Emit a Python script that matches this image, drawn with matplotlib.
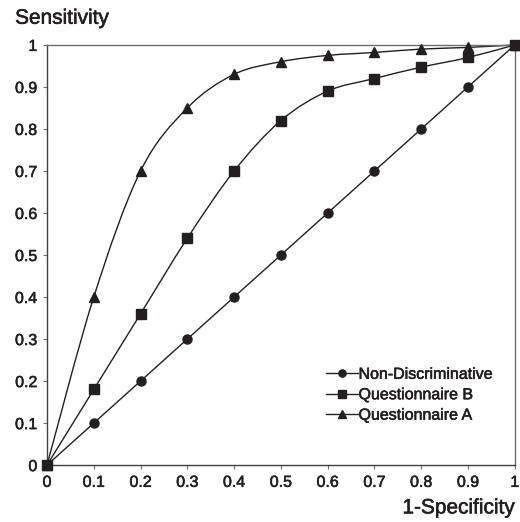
import numpy as np
import matplotlib
matplotlib.use("Agg")
import matplotlib.pyplot as plt
import matplotlib.patheffects as pe
from matplotlib.path import Path
from matplotlib.patches import PathPatch

# values
fpr = [0, 0.1, 0.2, 0.3, 0.4, 0.5, 0.6, 0.7, 0.8, 0.9, 1.0]
non_disc = [0, 0.1, 0.2, 0.3, 0.4, 0.5, 0.6, 0.7, 0.8, 0.9, 1.0]
quest_b = [0, 0.18, 0.36, 0.54, 0.70, 0.82, 0.89, 0.92, 0.947, 0.97, 1.0]
quest_a = [0, 0.40, 0.70, 0.85, 0.93, 0.96, 0.975, 0.982, 0.99, 0.994, 1.0]

series = [("Non-Discriminative", non_disc, "o"),
          ("Questionnaire B", quest_b, "s"),
          ("Questionnaire A", quest_a, "^")]

ticks = [0, 0.1, 0.2, 0.3, 0.4, 0.5, 0.6, 0.7, 0.8, 0.9, 1]
tick_labels = ["0", "0.1", "0.2", "0.3", "0.4", "0.5", "0.6", "0.7", "0.8", "0.9", "1"]

ink = "#231f20"
frame = "#6d6e71"
plt.rcParams['font.family'] = ['Liberation Sans', 'DejaVu Sans']
# printed text is a bit heavier than regular
heavy = [pe.withStroke(linewidth=0.4, foreground=ink)]


def smooth_path(x, y):
    # Excel-style smoothed line: cubic bezier segments (Catmull-Rom tangents)
    x = np.asarray(x, float)
    y = np.asarray(y, float)
    verts = [(x[0], y[0])]
    codes = [Path.MOVETO]
    n = len(x)
    for i in range(n - 1):
        i0 = max(i - 1, 0)
        i3 = min(i + 2, n - 1)
        c1 = (x[i] + (x[i + 1] - x[i0]) / 6, y[i] + (y[i + 1] - y[i0]) / 6)
        c2 = (x[i + 1] - (x[i3] - x[i]) / 6, y[i + 1] - (y[i3] - y[i]) / 6)
        verts += [c1, c2, (x[i + 1], y[i + 1])]
        codes += [Path.CURVE4] * 3
    return Path(verts, codes)


fig = plt.figure(figsize=(5.2, 5.22), dpi=100)
ax = fig.add_axes([0.0904, 0.109, 0.8996, 0.805])

for name, vals, mk in series:
    ms = 7 if mk == "^" else 6.5
    ax.add_patch(PathPatch(smooth_path(fpr, vals), facecolor="none",
                           edgecolor=ink, lw=1.0, clip_on=False))
    ax.plot(fpr, vals, linestyle="none", marker=mk, color=ink,
            markersize=ms, clip_on=False, zorder=3)
    # proxy for legend
    ax.plot([], [], color=ink, lw=1.0, marker=mk, markersize=ms, label=name)

ax.set_xlim(0, 1)
ax.set_ylim(0, 1)
ax.set_xticks(ticks)
ax.set_xticklabels(tick_labels)
ax.set_yticks(ticks)
ax.set_yticklabels(tick_labels)
ax.tick_params(direction="out", length=3, width=0.8, color=frame,
               labelsize=11.5, labelcolor=ink, pad=4)
for lab in ax.get_xticklabels() + ax.get_yticklabels():
    lab.set_path_effects(heavy)
for s in ax.spines.values():
    s.set_color(frame)
    s.set_linewidth(1.0)
ax.spines['left'].set_color("#414042")
ax.spines['bottom'].set_color("#414042")

fig.text(0.029, 0.965, "Sensitivity", fontsize=15, color=ink,
         ha="left", va="center", path_effects=heavy)
fig.text(0.99, 0.027, "1-Specificity", fontsize=15, color=ink,
         ha="right", va="center", path_effects=heavy)

leg = ax.legend(loc="lower right", bbox_to_anchor=(0.97, 0.082), frameon=False,
                fontsize=11.5, handlelength=2.0, handletextpad=0.05,
                labelspacing=0.34, borderpad=0, labelcolor=ink, markerscale=0.8)
for t in leg.get_texts():
    t.set_path_effects(heavy)

fig.savefig("out.png", dpi=100)
